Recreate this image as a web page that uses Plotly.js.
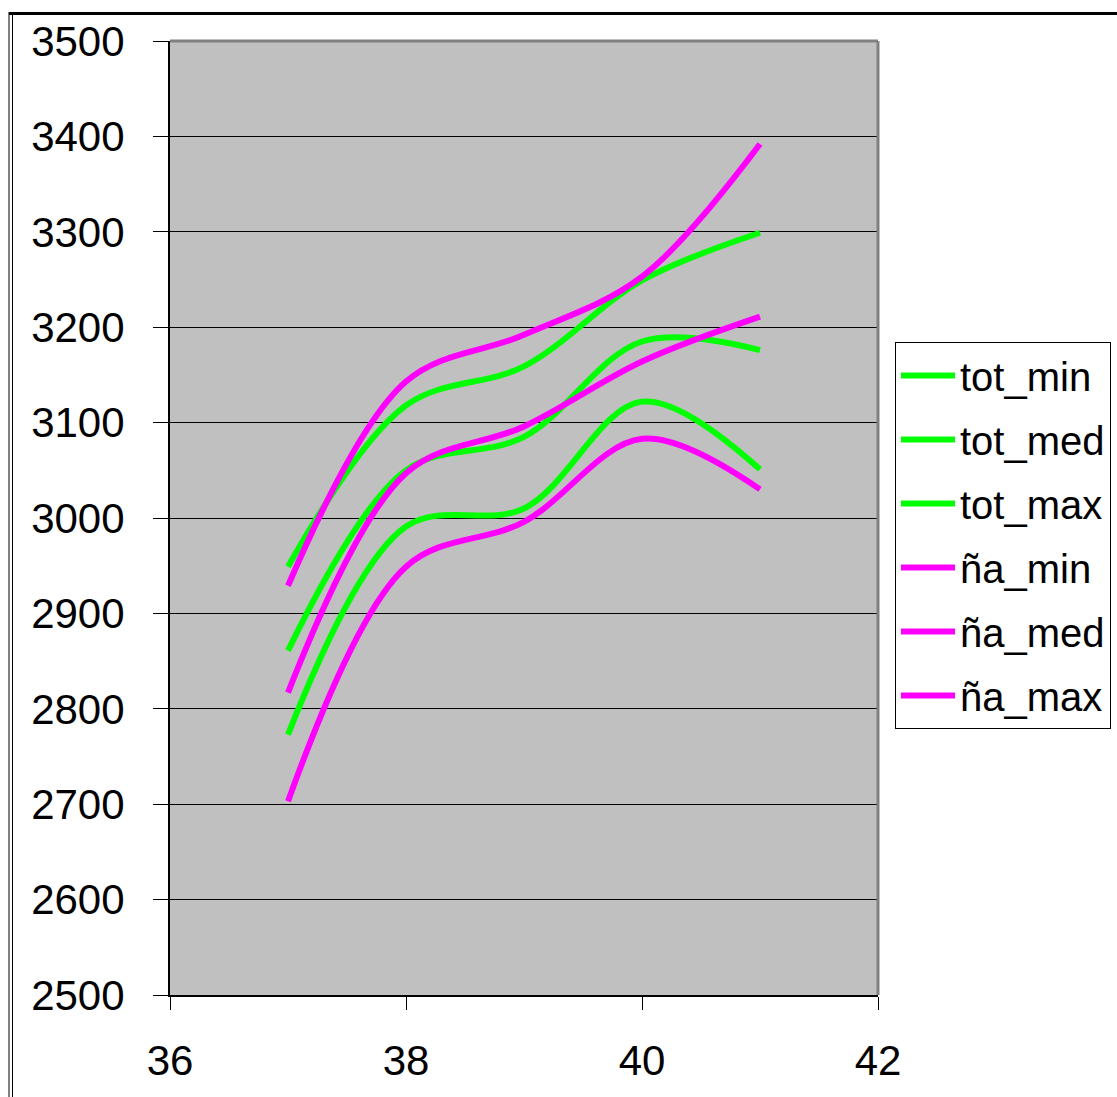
<!DOCTYPE html>
<html>
<head>
<meta charset="utf-8">
<script src="https://cdn.plot.ly/plotly-3.0.1.min.js"></script>
<style>html,body{margin:0;padding:0;background:#fff;}#chart{width:1117px;height:1097px;}</style>
</head>
<body>
<div id="chart"></div>
<script>
var xValues = [37, 38, 39, 40, 41];
var totMin = [2773, 2991, 3010, 3122, 3051];
var totMed = [2861, 3050, 3085, 3185, 3176];
var totMax = [2949, 3118, 3159, 3249, 3299];
var naMin = [2703, 2949, 2996, 3083, 3030];
var naMed = [2817, 3047, 3096, 3164, 3211];
var naMax = [2929, 3143, 3192, 3253, 3392];
var seriesNames = ['tot_min', 'tot_med', 'tot_max', 'ña_min', 'ña_med', 'ña_max'];
var seriesValues = [totMin, totMed, totMax, naMin, naMed, naMax];
var seriesColors = ['#00ff00', '#00ff00', '#00ff00', '#ff00ff', '#ff00ff', '#ff00ff'];

var traces = seriesNames.map(function (n, i) {
  return {
    x: xValues, y: seriesValues[i], name: n, type: 'scatter', mode: 'lines',
    legendgroup: 'g' + i,
    line: {color: seriesColors[i], width: 6, shape: 'spline', smoothing: 1}
  };
});

var L = 170, R = 878, T = 41, B = 995, W = 1117, H = 1097;
function px(xp) { return (xp - L) / (R - L); }
function py(yp) { return (B - yp) / (B - T); }

var layout = {
  width: W, height: H,
  margin: {l: L, r: W - R, t: T, b: H - B, autoexpand: false},
  paper_bgcolor: '#ffffff', plot_bgcolor: '#c0c0c0',
  font: {family: 'Liberation Sans, Arial, sans-serif', color: '#000000'},
  showlegend: true,
  legend: {
    x: px(895), y: py(342), xanchor: 'left', yanchor: 'top',
    bgcolor: '#ffffff', bordercolor: '#000000', borderwidth: 1,
    font: {size: 40, color: '#000000'}, tracegroupgap: 9, itemwidth: 54
  },
  xaxis: {
    range: [36, 42], dtick: 2, tick0: 36, showgrid: false, zeroline: false,
    showline: true, linecolor: '#000000', linewidth: 2,
    ticks: 'outside', ticklen: 13, tickcolor: '#000000', tickwidth: 1,
    tickfont: {size: 42, color: '#000000'}, ticklabelstandoff: 15
  },
  yaxis: {
    range: [2500, 3500], dtick: 100, tick0: 2500, showgrid: true, gridcolor: '#000000', gridwidth: 1,
    zeroline: false, showline: true, linecolor: '#000000', linewidth: 2,
    ticks: 'outside', ticklen: 15, tickcolor: '#000000', tickwidth: 1,
    tickfont: {size: 42, color: '#000000'}, ticklabelstandoff: 20
  },
  shapes: [
    {type: 'line', xref: 'paper', yref: 'paper', x0: 0, x1: 1, y0: 1, y1: 1, line: {color: '#808080', width: 3}},
    {type: 'line', xref: 'paper', yref: 'paper', x0: 1, x1: 1, y0: 0, y1: 1, line: {color: '#808080', width: 3}},
    {type: 'line', xref: 'paper', yref: 'paper', x0: px(9), x1: px(1200), y0: py(13.5), y1: py(13.5), line: {color: '#000000', width: 3}},
    {type: 'line', xref: 'paper', yref: 'paper', x0: px(9), x1: px(9), y0: py(12), y1: py(1200), line: {color: '#000000', width: 1}},
    {type: 'line', xref: 'paper', yref: 'paper', x0: px(12.5), x1: px(12.5), y0: py(15), y1: py(1200), line: {color: '#000000', width: 1}}
  ]
};

Plotly.newPlot('chart', traces, layout, {displayModeBar: false, staticPlot: true});
</script>
</body>
</html>
